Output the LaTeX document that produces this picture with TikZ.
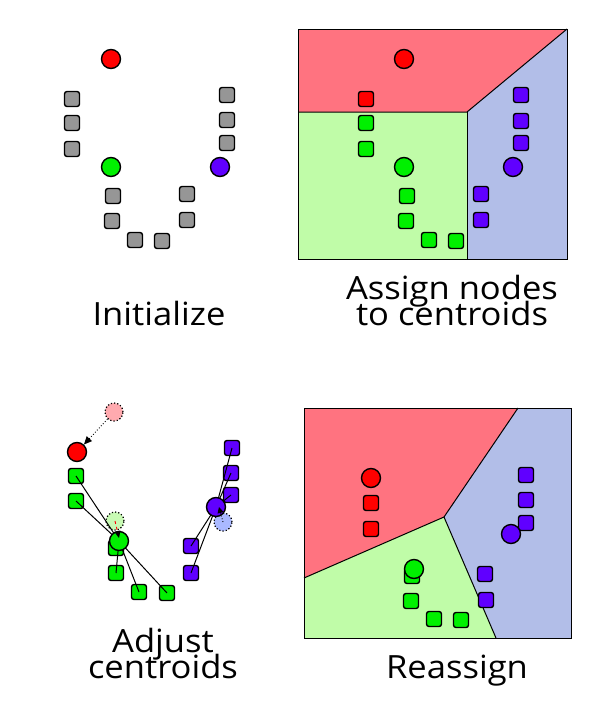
\documentclass[tikz,border=0pt]{standalone}
\usepackage{fontspec}
\setmainfont{Open Sans}[FakeStretch=1.08]
\usetikzlibrary{arrows.meta}
\definecolor{cred}{RGB}{255,0,0}
\definecolor{cgreen}{RGB}{0,240,0}
\definecolor{cpurple}{RGB}{96,0,255}
\definecolor{cgray}{RGB}{150,150,150}
\definecolor{rred}{RGB}{255,115,128}
\definecolor{rgreen}{RGB}{192,252,168}
\definecolor{rblue}{RGB}{178,190,232}
\definecolor{fred}{RGB}{255,170,175}
\definecolor{fgreen}{RGB}{200,250,180}
\definecolor{fblue}{RGB}{170,185,255}
\begin{document}
\begin{tikzpicture}[x=1pt,y=-1pt,
  pt/.style={draw=black,line width=1.4pt,rounded corners=2.5pt,minimum size=15pt,inner sep=0pt},
  cen/.style={circle,draw=black,line width=1.4pt,minimum size=19pt,inner sep=0pt},
  oldcen/.style={circle,draw=black,dotted,line width=1.2pt,minimum size=18pt,inner sep=0pt},
  reg/.style={draw=black,line width=1pt},
  link/.style={draw=black,line width=1pt},
  lbl/.style={font=\fontsize{32}{25}\selectfont,align=center,inner sep=0pt,anchor=base}]
\useasboundingbox (0,0) rectangle (607,704);
% ---------- Panel 1: Initialize ----------
\node[cen,fill=cred] (a1) at (111,59) {};
\node[cen,fill=cgreen] (a2) at (111,167) {};
\node[cen,fill=cpurple] (a3) at (220,167) {};
\foreach \i/\x/\y in {1/72/99,2/72/123,3/72/149,4/227/95,5/227/120,6/227/143,7/113/196,8/112/221,9/135/240,10/162/241,11/187/194,12/187/220}
  \node[pt,fill=cgray] (ap\i) at (\x,\y) {};
\node[lbl] (t1) at (159,325) {Initialize};
% ---------- Panel 2: Assign ----------
\coordinate (b1) at (298,29);
\coordinate (b2) at (567,29);
\coordinate (b3) at (567,259);
\coordinate (b4) at (298,259);
\coordinate (bm) at (467,112);
\coordinate (bl) at (298,112);
\coordinate (bb) at (467,259);
\fill[rred] (b1) -- (b2) -- (bm) -- (bl) -- cycle;
\fill[rblue] (bm) -- (b2) -- (b3) -- (bb) -- cycle;
\fill[rgreen] (bl) -- (bm) -- (bb) -- (b4) -- cycle;
\draw[reg] (bl) -- (bm) -- (b2);
\draw[reg] (bm) -- (bb);
\draw[reg] (b1) rectangle (b3);
\node[cen,fill=cred] (bc1) at (404,59) {};
\node[cen,fill=cgreen] (bc2) at (404,167) {};
\node[cen,fill=cpurple] (bc3) at (513,167) {};
\node[pt,fill=cred] (bp1) at (366,99) {};
\foreach \i/\x/\y in {2/366/123,3/366/149,7/407/196,8/406/221,9/429/240,10/456/241}
  \node[pt,fill=cgreen] (bp\i) at (\x,\y) {};
\foreach \i/\x/\y in {4/521/95,5/521/121,6/521/143,11/481/194,12/481/220}
  \node[pt,fill=cpurple] (bp\i) at (\x,\y) {};
\node[lbl] (t2) at (452,325) {Assign nodes\\[-7pt]to centroids};
% ---------- Panel 3: Adjust ----------
\node[oldcen,fill=fred] (co1) at (114,412) {};
\node[oldcen,fill=fgreen] (co2) at (115,521) {};
\node[oldcen,fill=fblue] (co3) at (223,522) {};
\foreach \i/\x/\y in {1/76/476,2/76/501,6/116/548,7/116/573,8/139/592,9/167/593}
  \node[pt,fill=cgreen] (cp\i) at (\x,\y) {};
\foreach \i/\x/\y in {3/232/448,4/231/473,5/231/495,10/191/546,11/191/573}
  \node[pt,fill=cpurple] (cp\i) at (\x,\y) {};
\coordinate (gc) at (119,541);
\coordinate (pc) at (216,507);
\foreach \i in {1,2,6,7,8,9} \draw[link] (gc) -- (cp\i.center);
\foreach \i in {3,4,5,10,11} \draw[link] (pc) -- (cp\i.center);
\node[cen,fill=cred] (cc1) at (77,452) {};
\node[cen,fill=cgreen] (cc2) at (gc) {};
\node[cen,fill=cpurple] (cc3) at (pc) {};
\draw[dotted,line width=0.9pt,-{Triangle[length=8pt,width=7pt]}] (co1) -- (cc1);
\draw[red,dashed,line width=0.9pt,-{Triangle[length=7pt,width=6pt,black]}] (co2.center) -- ([yshift=3pt]cc2.center);
\draw[dotted,line width=0.9pt,-{Triangle[length=6pt,width=6pt]}] (co3.center) -- ([xshift=3pt]cc3.center);
\node[lbl] (t3) at (163,678) {Adjust\\[-7pt]centroids};
% ---------- Panel 4: Reassign ----------
\coordinate (d1) at (304,408);
\coordinate (d2) at (571,408);
\coordinate (d3) at (571,638);
\coordinate (d4) at (304,638);
\coordinate (dm) at (444,517);
\coordinate (dl) at (304,578);
\coordinate (dt) at (518,408);
\coordinate (db) at (496,638);
\fill[rred] (d1) -- (dt) -- (dm) -- (dl) -- cycle;
\fill[rblue] (dt) -- (d2) -- (d3) -- (db) -- (dm) -- cycle;
\fill[rgreen] (dl) -- (dm) -- (db) -- (d4) -- cycle;
\draw[reg] (dl) -- (dm) -- (dt);
\draw[reg] (dm) -- (db);
\draw[reg] (d1) rectangle (d3);
\foreach \i/\x/\y in {1/371/503,2/371/529}
  \node[pt,fill=cred] (dp\i) at (\x,\y) {};
\foreach \i/\x/\y in {3/412/576,4/411/601,5/434/619,6/461/620}
  \node[pt,fill=cgreen] (dp\i) at (\x,\y) {};
\foreach \i/\x/\y in {7/526/475,8/526/500,9/526/523,10/485/574,11/486/600}
  \node[pt,fill=cpurple] (dp\i) at (\x,\y) {};
\node[cen,fill=cred] (dc1) at (371,478) {};
\node[cen,fill=cgreen] (dc2) at (414,569) {};
\node[cen,fill=cpurple] (dc3) at (511,534) {};
\node[lbl] (t4) at (457,678) {Reassign};
\end{tikzpicture}
\end{document}
